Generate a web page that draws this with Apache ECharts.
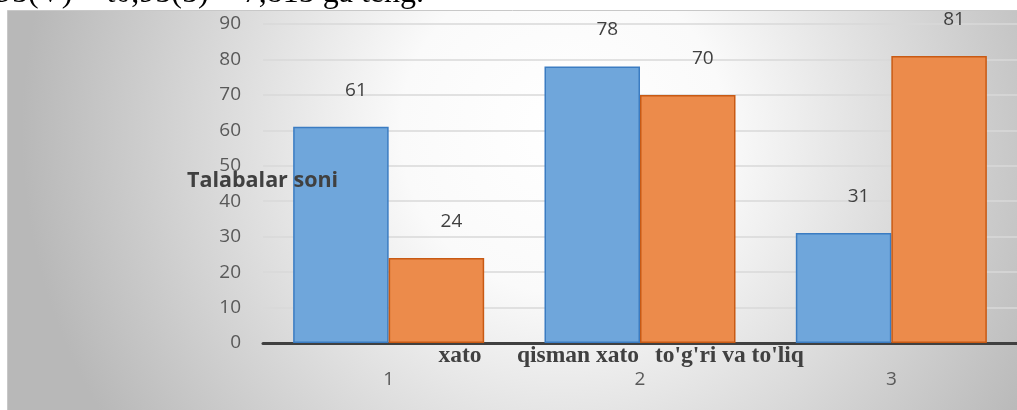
<!DOCTYPE html>
<html>
<head>
<meta charset="utf-8">
<script src="https://cdn.jsdelivr.net/npm/echarts@6/dist/echarts.min.js"></script>
<style>
html,body{margin:0;padding:0;background:#fff;}
#chart{width:1017px;height:410px;}
</style>
</head>
<body>
<div id="chart"></div>
<script>
const categories = ['1', '2', '3'];
const seriesA = [61, 78, 31];
const seriesB = [24, 70, 81];
const yTicks = { min: 0, max: 90, interval: 10 };
const axisTitle = 'Talabalar soni';
const notes = ['xato', 'qisman xato', "to'g'ri va to'liq"];
const headerText = '95(V) = t0,95(5) = 7,815 ga teng.';

const chart = echarts.init(document.getElementById('chart'), null, { renderer: 'canvas' });

const labelStyle = {
  show: true, position: 'top', distance: 27, offset: [15, 0],
  fontFamily: 'Open Sans', fontSize: 19, color: '#404040'
};

const noteStyle = { fontFamily: 'Liberation Serif', fontWeight: 'bold', fontSize: 23.5, fill: '#404040', verticalAlign: 'middle' };

const option = {
  animation: false,
  graphic: [
    {
      type: 'text', x: -4, y: 10, z: -20, silent: true,
      style: {
        text: headerText, fontFamily: 'Liberation Serif', fontSize: 32,
        fill: '#000', verticalAlign: 'bottom'
      }
    },
    {
      type: 'rect', left: 7, top: 10, z: -10, silent: true,
      shape: { width: 1010, height: 400 },
      style: {
        fill: {
          type: 'radial', x: 0.55, y: 0.3, r: 1.35,
          colorStops: [
            { offset: 0, color: '#ffffff' },
            { offset: 0.3, color: '#fafafa' },
            { offset: 1, color: '#b8b8b8' }
          ]
        },
        stroke: '#c8c8c8', lineWidth: 1
      }
    },
    {
      type: 'text', x: 187, y: 181, z: 20, silent: true,
      style: { text: axisTitle, fontFamily: 'Open Sans', fontWeight: 'bold', fontSize: 21.5, fill: '#404040', align: 'left', verticalAlign: 'middle' }
    },
    { type: 'text', x: 460, y: 356, silent: true, style: Object.assign({ text: notes[0], align: 'center' }, noteStyle) },
    { type: 'text', x: 517, y: 356, silent: true, style: Object.assign({ text: notes[1], align: 'left' }, noteStyle) },
    { type: 'text', x: 655, y: 356, silent: true, style: Object.assign({ text: notes[2], align: 'left' }, noteStyle) }
  ],
  grid: { left: 263, right: 0, top: 24, bottom: 67, containLabel: false },
  xAxis: {
    type: 'category', data: categories,
    axisLine: { lineStyle: { color: '#404040', width: 3 } },
    axisTick: { show: false },
    axisLabel: { fontFamily: 'Open Sans', fontSize: 19, color: '#595959', margin: 27 }
  },
  yAxis: {
    type: 'value', min: yTicks.min, max: yTicks.max, interval: yTicks.interval,
    axisLine: { show: false }, axisTick: { show: false },
    axisLabel: { fontFamily: 'Open Sans', fontSize: 19, color: '#595959', margin: 22 },
    splitLine: { lineStyle: { color: '#d9d9d9', width: 1.5 } }
  },
  series: [
    {
      type: 'bar', data: seriesA, barGap: '0%', barCategoryGap: '24%',
      itemStyle: { color: '#6fa6db', borderColor: '#3b7cc2', borderWidth: 1.5 },
      label: labelStyle
    },
    {
      type: 'bar', data: seriesB, barGap: '0%', barCategoryGap: '24%',
      itemStyle: { color: '#ec8b4b', borderColor: '#c85a14', borderWidth: 1.5 },
      label: labelStyle
    }
  ]
};
chart.setOption(option);
</script>
</body>
</html>
